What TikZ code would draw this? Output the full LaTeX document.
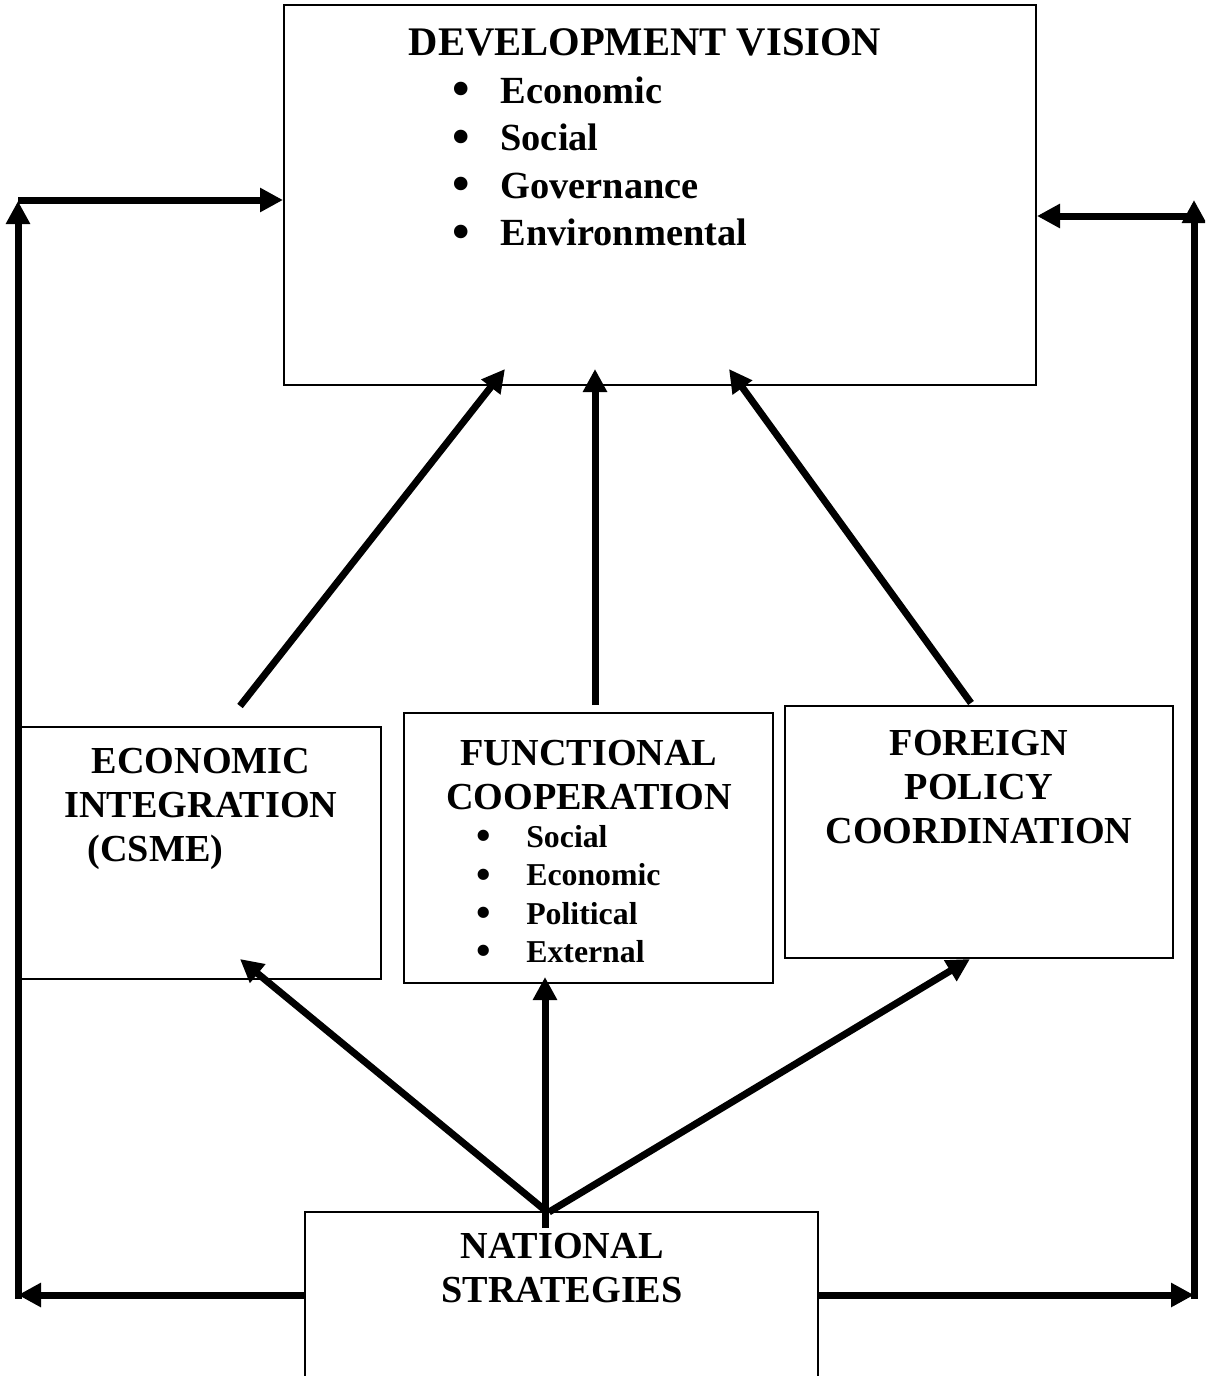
\documentclass[tikz,border=0pt]{standalone}
\usepackage{fontspec}
\setmainfont{Liberation Serif}
\usetikzlibrary{positioning,arrows.meta,calc,fit}
\newcommand{\bul}[1]{\makebox[#1][l]{\raisebox{-0.07em}{\scalebox{1.3}{\textbullet}}}}
\tikzset{
    box/.style={draw,line width=1pt,inner sep=0pt},
    head/.style={font=\bfseries\fontsize{19.1}{22}\selectfont,align=center,inner sep=0pt,anchor=north},
    items/.style={font=\bfseries\fontsize{19.2}{23.75}\selectfont,align=left,inner sep=0pt,anchor=north west},
    subitems/.style={font=\bfseries\fontsize{15.9}{19.15}\selectfont,align=left,inner sep=0pt,anchor=north west},
    flow/.style={draw,line width=3.5pt,-{Triangle[length=11.5pt,width=11.5pt]}},
}
\begin{document}
\begin{tikzpicture}[x=0.5pt,y=-0.5pt]
    \useasboundingbox (0,0) rectangle (1205,1376);
    \clip (0,0) rectangle (1205,1376);

    % boxes
    \node[box,fit={(284,5) (1036,385)}] (vision) {};
    \node[box,fit={(21,727) (381,979)}] (econ) {};
    \node[box,fit={(404,713) (773,983)}] (func) {};
    \node[box,fit={(785,706) (1173,958)}] (foreign) {};
    \node[box,fit={(305,1212) (818,1420)}] (national) {};

    % texts
    \node[head,font=\bfseries\fontsize{20.3}{24}\selectfont] (visiontxt) at (645,28) {DEVELOPMENT VISION};
    \node[items] (visionlist) at (452,76) {\bul{24pt}Economic\\ \bul{24pt}Social\\ \bul{24pt}Governance\\ \bul{24pt}Environmental};
    \node[head] (econtxt) at (201,748) {ECONOMIC\\INTEGRATION\\\hspace*{-45.5pt}(CSME)};
    \node[head] (functxt) at (589,740) {FUNCTIONAL\\COOPERATION};
    \node[subitems] (funclist) at (476.5,825) {\bul{24.7pt}Social\\ \bul{24.7pt}Economic\\ \bul{24.7pt}Political\\ \bul{24.7pt}External};
    \node[head] (foreigntxt) at (979,730) {FOREIGN\\POLICY\\COORDINATION};
    \node[head] (nationaltxt) at (562,1233) {NATIONAL\\STRATEGIES};

    % loop corners
    \coordinate (bl) at (18,1295);
    \coordinate (tl) at (18,201);
    \coordinate (tlh) at (18,200);
    \coordinate (br) at (1194,1295);
    \coordinate (tr) at (1194,200);
    \coordinate (trh) at (1194,216);

    % arrow ends near the boxes
    \coordinate (econ-up) at (240,706);
    \coordinate (func-up) at (595,705);
    \coordinate (foreign-up) at (971,703);
    \coordinate (vis-l) at (505,369);
    \coordinate (vis-m) at (595,369);
    \coordinate (vis-r) at (729,369);
    \coordinate (nat-l) at (546,1211);
    \coordinate (nat-m) at (545,1228);
    \coordinate (nat-r) at (549,1212);
    \coordinate (econ-in) at (240,959);
    \coordinate (func-in) at (545,977);
    \coordinate (foreign-in) at (970,959);

    \path
    (national.west |- bl) edge[flow] (bl)
    (bl) edge[flow,shorten <=-1.75pt] (tl)
    (tlh) edge[flow] (vision.west |- tlh)
    (national.east |- br) edge[flow] (br)
    (br) edge[flow,shorten <=-1.75pt] (tr)
    (trh) edge[flow] (vision.east |- trh)
    (econ-up) edge[flow] (vis-l)
    (func-up) edge[flow] (vis-m)
    (foreign-up) edge[flow] (vis-r)
    (nat-l) edge[flow] (econ-in)
    (nat-m) edge[flow] (func-in)
    (nat-r) edge[flow] (foreign-in);
\end{tikzpicture}
\end{document}
